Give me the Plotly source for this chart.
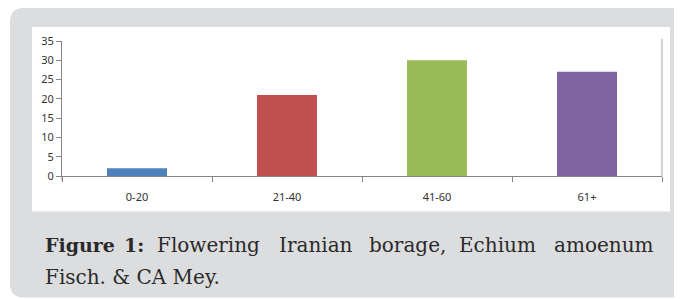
import plotly.graph_objects as go

categories = ["0-20", "21-40", "41-60", "61+"]
values = [2, 21, 30, 27]
bar_colors = ["#4F81BD", "#C0504D", "#9BBB59", "#8064A2"]
y_ticks = [0, 5, 10, 15, 20, 25, 30, 35]

caption_line1_words = ["<b>Figure</b>", "<b>1:</b>", "Flowering", "Iranian", "borage,", "Echium", "amoenum"]
caption_line1_x = [43, 122, 155, 277, 367, 457, 552]
caption_line2 = "Fisch. & CA Mey."

# the page body has an 8px margin, so the figure is laid out in window pixels minus 8
OFF = 8
W, H = 682 - OFF, 299 - OFF
L, T = 62 - OFF, 41 - OFF
PW = 600
PH = 134.7
R = W - L - PW
B = H - T - PH


def px(x):
    return (x - OFF - L) / PW


def py(y):
    return 1 - (y - OFF - T) / PH


fig = go.Figure()
fig.add_trace(go.Bar(
    x=categories, y=values, marker=dict(color=bar_colors, line=dict(width=0)),
    width=0.4, showlegend=False,
))

# gray rounded frame
r = 14
x0, y0, x1, y1 = 10, 8, 700, 297
path = (f"M {px(x0 + r)},{py(y0)} L {px(x1)},{py(y0)} L {px(x1)},{py(y1)} "
        f"L {px(x0 + r)},{py(y1)} Q {px(x0)},{py(y1)} {px(x0)},{py(y1 - r)} "
        f"L {px(x0)},{py(y0 + r)} Q {px(x0)},{py(y0)} {px(x0 + r)},{py(y0)} Z")
shapes = [
    dict(type="path", xref="paper", yref="paper", path=path,
         fillcolor="#DCDDDF", line=dict(width=0), layer="below"),
    dict(type="rect", xref="paper", yref="paper", x0=px(32), x1=px(670), y0=py(211), y1=py(27),
         fillcolor="white", line=dict(width=0), layer="below"),
    dict(type="line", xref="paper", yref="paper", x0=1, x1=1, y0=0, y1=py(39),
         line=dict(color="#A6A6A6", width=1)),
    dict(type="line", xref="paper", yref="paper", x0=0, x1=0, y0=py(180), y1=0,
         line=dict(color="#868686", width=1)),
]

cap_font = dict(family="DejaVu Serif", size=20, color="#2A2A2A")
bold_font = dict(family="DejaVu Serif", size=19, color="#2A2A2A")
annotations = []
for w, xx in zip(caption_line1_words, caption_line1_x):
    annotations.append(dict(text=w, x=px(xx), y=py(245), xref="paper", yref="paper",
                            xanchor="left", yanchor="middle", showarrow=False,
                            font=bold_font if w.startswith("<b>") else cap_font))
annotations.append(dict(text=caption_line2, x=px(43), y=py(276), xref="paper", yref="paper",
                        xanchor="left", yanchor="middle", showarrow=False, font=cap_font))

fig.update_layout(
    width=W, height=H,
    margin=dict(l=L, r=R, t=T, b=B, pad=0),
    paper_bgcolor="white", plot_bgcolor="rgba(0,0,0,0)",
    shapes=shapes, annotations=annotations,
    xaxis=dict(
        type="category", showline=True, linecolor="#868686", linewidth=1,
        ticks="outside", tickson="boundaries", ticklen=5, tickcolor="#868686",
        showgrid=False, zeroline=False, ticklabelstandoff=11,
        tickfont=dict(family="Noto Sans", size=11, color="#333333"),
        range=[-0.5, 3.5],
    ),
    yaxis=dict(
        range=[0, 35], tickvals=y_ticks, showline=True, linecolor="#868686", linewidth=1,
        ticks="outside", ticklen=5, tickcolor="#868686", showgrid=False, zeroline=False,
        tickfont=dict(family="Noto Sans", size=11, color="#333333"),
    ),
)

fig.write_html("out.html")
